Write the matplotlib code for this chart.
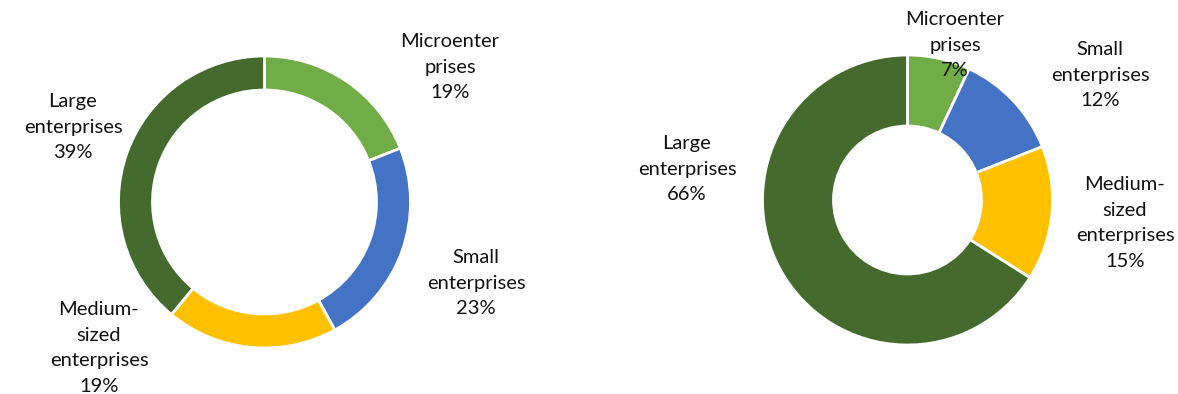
import matplotlib.pyplot as plt

# enterprise-size shares, two donuts side by side
categories = ["Microenter\nprises", "Small\nenterprises", "Medium-\nsized\nenterprises", "Large\nenterprises"]
left_values = [19, 23, 19, 39]
right_values = [7, 12, 15, 66]
colors = ["#70AD47", "#4472C4", "#FFC000", "#446A2D"]

W, H = 1178, 394
fig = plt.figure(figsize=(W / 100, H / 100), dpi=100)
plt.rcParams['font.family'] = ['Lato', 'DejaVu Sans']


def donut(cx, cy, r, hole, values, label_pos):
    # axis box in pixel units, one data unit = one pixel
    pad = 200
    ax = fig.add_axes([(cx - r - pad) / W, (H - cy - r - pad) / H, (2 * r + 2 * pad) / W, (2 * r + 2 * pad) / H])
    ax.pie(values, radius=r, colors=colors, startangle=90, counterclock=False,
           wedgeprops=dict(width=r - hole, edgecolor='white', linewidth=2))
    ax.set_xlim(-r - pad, r + pad)
    ax.set_ylim(-r - pad, r + pad)
    ax.set_aspect('equal')
    ax.axis('off')
    total = sum(values)
    for name, v, (dx, dy) in zip(categories, values, label_pos):
        ax.text(dx, -dy, f"{name}\n{round(100 * v / total)}%", ha='center', va='center',
                fontsize=14.5, color='#111111', linespacing=1.62, clip_on=False)


donut(264.5, 202, 146, 112, left_values,
      [(185.5, -135), (211.5, 81), (-165.5, 146), (-191.5, -75)])
donut(907.5, 200, 145, 74, right_values,
      [(47.5, -155), (192.5, -125), (217.5, 23), (-220.5, -31)])

fig.savefig("out.png", dpi=100)
